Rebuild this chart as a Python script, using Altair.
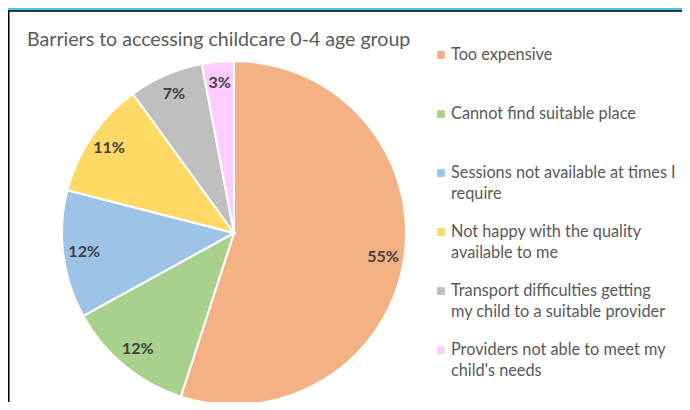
import altair as alt
import pandas as pd

TITLE = "Barriers to accessing childcare 0-4 age group"
categories = [
    "Too expensive",
    "Cannot find suitable place",
    "Sessions not available at times I require",
    "Not happy with the quality available to me",
    "Transport difficulties getting my child to a suitable provider",
    "Providers not able to meet my child's needs",
]
legend_labels = [
    "Too expensive",
    "Cannot find suitable place",
    "Sessions not available at times I|require",
    "Not happy with the quality|available to me",
    "Transport difficulties getting|my child to a suitable provider",
    "Providers not able to meet my|child's needs",
]
values = [55, 12, 12, 11, 7, 3]
colors = ["#F4B183", "#A9D18E", "#9DC3E6", "#FFD966", "#BFBFBF", "#FFCCFF"]

df = pd.DataFrame({
    "category": categories,
    "legend": legend_labels,
    "value": values,
    "order": list(range(len(categories))),
    "pct": [f"{v}%" for v in values],
})

W, H = 674, 394
CX, CY, R = 226, 225, 172
FONT = "Lato"

color_scale = alt.Scale(domain=categories, range=colors)

frame = alt.Chart(alt.Data(values=[{"a": 1}])).mark_rect(
    fill="white", stroke="black", strokeWidth=1.5
).encode(x=alt.value(0.75), x2=alt.value(W + 20), y=alt.value(3), y2=alt.value(H + 20))

title = alt.Chart(alt.Data(values=[{"t": TITLE}])).mark_text(
    align="left", baseline="middle", font=FONT, fontSize=19.6, color="#595959"
).encode(text="t:N", x=alt.value(19), y=alt.value(32))

base = alt.Chart(df)

pie = base.mark_arc(stroke="white", strokeWidth=2, radius=R).encode(
    theta=alt.Theta("value:Q", stack=True),
    order=alt.Order("order:Q"),
    color=alt.Color("category:N", scale=color_scale, legend=None),
    x=alt.value(CX), y=alt.value(CY),
)

pct = base.mark_text(
    font=FONT, fontSize=16, fontWeight="bold", color="#404040",
    align="center", baseline="middle", radius=151,
).encode(
    theta=alt.Theta("value:Q", stack=True),
    order=alt.Order("order:Q"),
    text="pct:N",
    x=alt.value(CX), y=alt.value(CY),
)

yscale = alt.Scale(type="point", domain=categories, range=[47, 342], padding=0)

leg_sym = base.mark_square(size=60, opacity=1).encode(
    x=alt.value(433),
    y=alt.Y("category:N", scale=yscale, axis=None),
    color=alt.Color("category:N", scale=color_scale, legend=None),
)

leg_txt = base.mark_text(
    align="left", baseline="middle", lineBreak="|", lineHeight=21,
    font=FONT, fontSize=16.3, color="#595959",
).encode(
    x=alt.value(443),
    y=alt.Y("category:N", scale=yscale, axis=None),
    text="legend:N",
)

chart = alt.layer(frame, title, pie, pct, leg_sym, leg_txt).properties(
    width=W, height=H, background="#44C8F5", padding=0, autosize="none"
).configure_view(stroke=None)

chart.save("out.html", embed_options={"renderer": "svg", "actions": False})
